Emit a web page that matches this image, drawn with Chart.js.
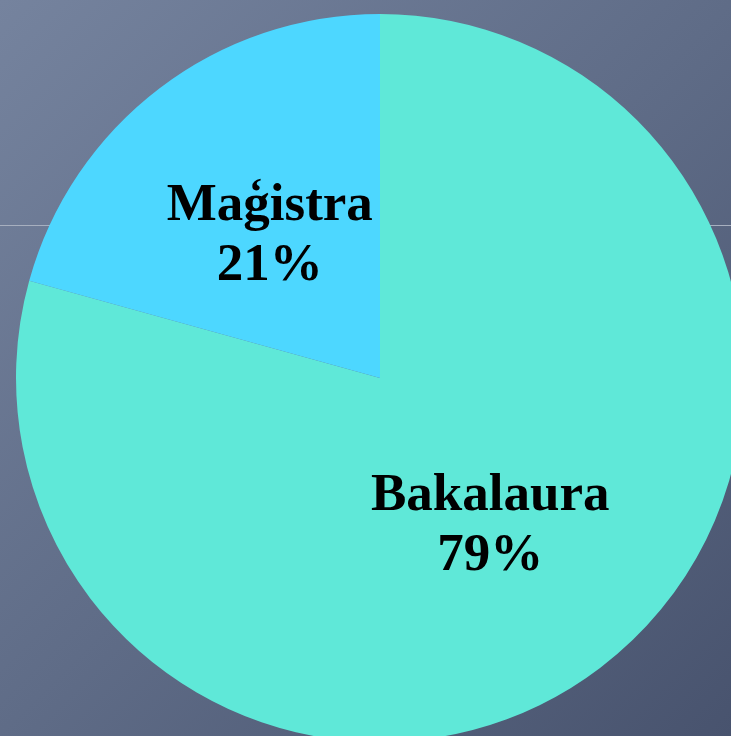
<!DOCTYPE html>
<html>
<head>
<meta charset="utf-8">
<script src="https://cdn.jsdelivr.net/npm/chart.js@4"></script>
<style>
  html, body {
    margin: 0;
    padding: 0;
    width: 731px;
    height: 736px;
    overflow: hidden;
  }
  body {
    background: linear-gradient(135deg, #75839e 0%, #5f6c87 50%, #48536e 100%);
    position: relative;
  }
  .rule {
    position: absolute;
    left: 0;
    top: 225px;
    width: 731px;
    height: 1px;
    background: #a7afbf;
  }
  #wrap {
    position: absolute;
    left: 0;
    top: 0;
  }
</style>
</head>
<body>
<div class="rule"></div>
<div id="wrap"><canvas id="pieChart" width="760" height="760"></canvas></div>
<script>
var categories = ["Bakalaura", "Maģistra"];
var shares = [79.3, 20.7];
var sliceColors = ["#5fe8d8", "#4dd7ff"];

// labels in the middle of each slice, two lines (name + percent)
var sliceLabels = {
  id: 'sliceLabels',
  afterDatasetsDraw: function(chart) {
    var ctx = chart.ctx;
    var meta = chart.getDatasetMeta(0);
    ctx.save();
    ctx.fillStyle = '#000';
    ctx.font = 'bold 53px "Liberation Serif", "Times New Roman", serif';
    ctx.textAlign = 'center';
    ctx.textBaseline = 'alphabetic';
    meta.data.forEach(function(arc, i) {
      var p = arc.getProps(['x', 'y', 'startAngle', 'endAngle', 'outerRadius'], true);
      var mid = (p.startAngle + p.endAngle) / 2;
      var d = p.outerRadius * 0.5;
      var cx = p.x + Math.cos(mid) * d;
      var cy = p.y + Math.sin(mid) * d;
      ctx.fillText(categories[i], cx, cy - 13);
      ctx.fillText(Math.round(shares[i]) + '%', cx, cy + 47);
    });
    ctx.restore();
  }
};

new Chart('pieChart', {
  type: 'pie',
  data: {
    labels: categories,
    datasets: [{
      data: shares,
      backgroundColor: sliceColors,
      hoverBackgroundColor: sliceColors,
      borderWidth: 0
    }]
  },
  options: {
    responsive: false,
    animation: false,
    layout: {
      padding: { left: 16, right: 16, top: 14, bottom: 18 }
    },
    plugins: {
      legend: { display: false },
      tooltip: { enabled: false }
    }
  },
  plugins: [sliceLabels]
});
</script>
</body>
</html>
